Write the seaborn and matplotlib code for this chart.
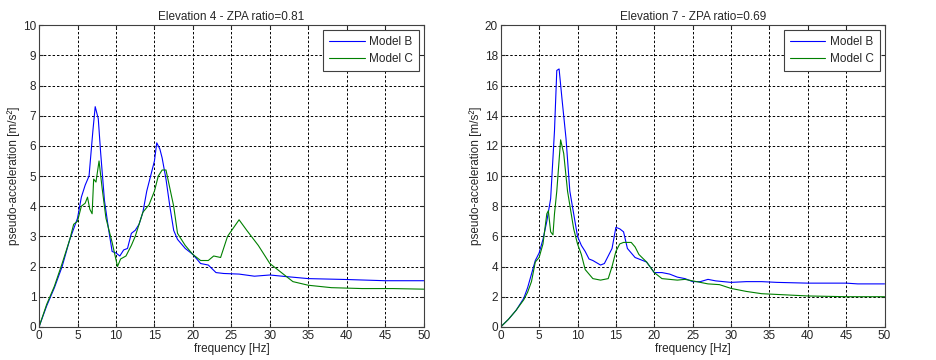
import pandas as pd
import matplotlib.pyplot as plt
import seaborn as sns

# === data ===
# Elevation 4
e4_b_f = [0, 1, 2, 3, 4, 5, 5.5, 6, 6.5, 7, 7.3, 7.7, 8, 8.5, 9, 9.5, 10, 10.5, 11, 11.5,
          12, 12.5, 13, 13.5, 14, 14.5, 15, 15.3, 15.7, 16, 16.5, 17, 17.5, 18, 19, 20,
          21, 22, 23, 24, 26, 28, 30, 32, 35, 40, 45, 50]
e4_b_a = [0, 0.7, 1.3, 2.0, 2.9, 3.6, 4.3, 4.7, 5.0, 6.5, 7.3, 6.9, 5.8, 4.2, 3.3, 2.5, 2.45, 2.35, 2.55, 2.6,
          3.1, 3.2, 3.4, 3.8, 4.5, 5.0, 5.5, 6.1, 5.9, 5.6, 4.9, 4.0, 3.2, 2.9, 2.6, 2.4,
          2.1, 2.05, 1.8, 1.77, 1.75, 1.68, 1.72, 1.67, 1.6, 1.57, 1.53, 1.53]
e4_c_f = [0, 1, 2, 3, 4, 4.5, 5, 5.5, 6, 6.3, 6.6, 6.9, 7.1, 7.4, 7.8, 8.2, 8.7, 9.5, 10.2, 10.6,
          11.3, 12, 12.5, 13, 13.5, 14.3, 15, 15.5, 16, 16.5, 17, 17.5, 18, 19, 20, 21, 22,
          22.7, 23.6, 24.5, 26, 27, 28.5, 30, 31.5, 33, 35, 38, 42, 46, 50]
e4_c_a = [0, 0.75, 1.35, 2.1, 2.9, 3.4, 3.5, 4.0, 4.1, 4.3, 3.9, 3.75, 4.9, 4.8, 5.5, 4.6, 3.6, 2.8, 2.0, 2.25,
          2.35, 2.7, 3.0, 3.4, 3.8, 4.05, 4.5, 5.0, 5.2, 5.2, 4.6, 4.0, 3.1, 2.7, 2.4, 2.2, 2.2,
          2.35, 2.3, 3.0, 3.55, 3.2, 2.7, 2.1, 1.8, 1.5, 1.38, 1.3, 1.27, 1.27, 1.25]

# Elevation 7
e7_b_f = [0, 1, 2, 3, 3.5, 4, 4.5, 5, 5.5, 6, 6.5, 7, 7.3, 7.6, 8, 8.5, 9, 9.5, 10, 10.5,
          11, 11.5, 12, 13, 13.5, 14, 14.5, 15, 15.5, 16, 16.5, 17, 17.5, 18, 19, 20, 21,
          22, 23, 24, 25, 26, 27, 28, 30, 32, 34, 36, 40, 45, 46.5, 50]
e7_b_a = [0, 0.5, 1.1, 1.9, 2.6, 3.5, 4.4, 4.9, 5.8, 7.0, 8.5, 13.0, 17.0, 17.1, 15.0, 12.5, 9.0, 7.5, 6.0, 5.4,
          5.0, 4.5, 4.4, 4.1, 4.2, 4.7, 5.2, 6.6, 6.5, 6.3, 5.2, 4.9, 4.6, 4.5, 4.3, 3.6, 3.6,
          3.5, 3.3, 3.2, 3.0, 3.0, 3.15, 3.05, 2.95, 3.0, 3.0, 2.95, 2.9, 2.9, 2.85, 2.85]
e7_c_f = [0, 1, 2, 3, 3.5, 4, 4.5, 5, 5.5, 6, 6.2, 6.5, 6.8, 7, 7.3, 7.8, 8.2, 8.7, 9.5, 10,
          10.5, 11, 12, 13, 14, 14.5, 15, 15.5, 16, 17, 17.5, 18, 19, 20, 21, 22, 23, 24,
          25, 26, 27, 28.5, 30, 32, 34, 36, 38, 40, 45, 50]
e7_c_a = [0, 0.5, 1.1, 1.8, 2.3, 3.0, 4.3, 4.6, 5.5, 7.5, 7.7, 6.3, 6.1, 7.5, 9.0, 12.4, 11.5, 9.0, 6.5, 5.5,
          4.8, 3.8, 3.2, 3.1, 3.2, 4.0, 5.0, 5.5, 5.6, 5.6, 5.3, 4.8, 4.3, 3.6, 3.2, 3.15, 3.1, 3.15,
          3.05, 2.95, 2.85, 2.8, 2.55, 2.35, 2.2, 2.15, 2.1, 2.05, 2.0, 2.0]

titles = ["Elevation 4 - ZPA ratio=0.81", "Elevation 7 - ZPA ratio=0.69"]
ylims = [10, 20]
yticks = [list(range(0, 11, 1)), list(range(0, 21, 2))]
xticks = list(range(0, 51, 5))


def to_long(bf, ba, cf, ca):
    d1 = pd.DataFrame({"f": bf, "a": ba, "model": "Model B"})
    d2 = pd.DataFrame({"f": cf, "a": ca, "model": "Model C"})
    return pd.concat([d1, d2], ignore_index=True)


panels = [to_long(e4_b_f, e4_b_a, e4_c_f, e4_c_a),
          to_long(e7_b_f, e7_b_a, e7_c_f, e7_c_a)]

sns.set_style("white")
plt.rcParams['font.family'] = ['Liberation Sans', 'DejaVu Sans']

fig = plt.figure(figsize=(9.36, 3.6), dpi=100)
axes = [fig.add_axes([0.0417, 0.092, 0.411, 0.838]),
        fig.add_axes([0.535, 0.092, 0.410, 0.838])]

palette = {"Model B": "#0000ff", "Model C": "#008000"}

for ax, df, title, ym, yt in zip(axes, panels, titles, ylims, yticks):
    sns.lineplot(data=df, x="f", y="a", hue="model", palette=palette,
                 sort=False, estimator=None, linewidth=0.8, ax=ax)
    ax.set_xlim(0, 50)
    ax.set_ylim(0, ym)
    ax.set_xticks(xticks)
    ax.set_yticks(yt)
    ax.grid(True, color='black', linestyle=(0, (2.5, 2)), linewidth=0.7)
    ax.tick_params(direction='in', length=3, labelsize=8.5, pad=2,
                   top=True, right=True, bottom=True, left=True)
    for s in ax.spines.values():
        s.set_color('#404040')
        s.set_linewidth(0.8)
    ax.set_title(title, fontsize=8.5, pad=4)
    ax.set_xlabel("frequency [Hz]", fontsize=8.5, labelpad=1)
    ax.set_ylabel("pseudo-acceleration [m/s²]", fontsize=8.5, labelpad=2)
    leg = ax.legend(loc='upper right', fontsize=8.5, frameon=True, fancybox=False,
                    borderaxespad=0.4, handlelength=3.0, handletextpad=0.4,
                    borderpad=0.5, labelspacing=0.45, framealpha=1)
    leg.get_frame().set_edgecolor('#404040')
    leg.get_frame().set_linewidth(0.8)
    leg.set_title(None)

fig.savefig("out.png", dpi=100)
